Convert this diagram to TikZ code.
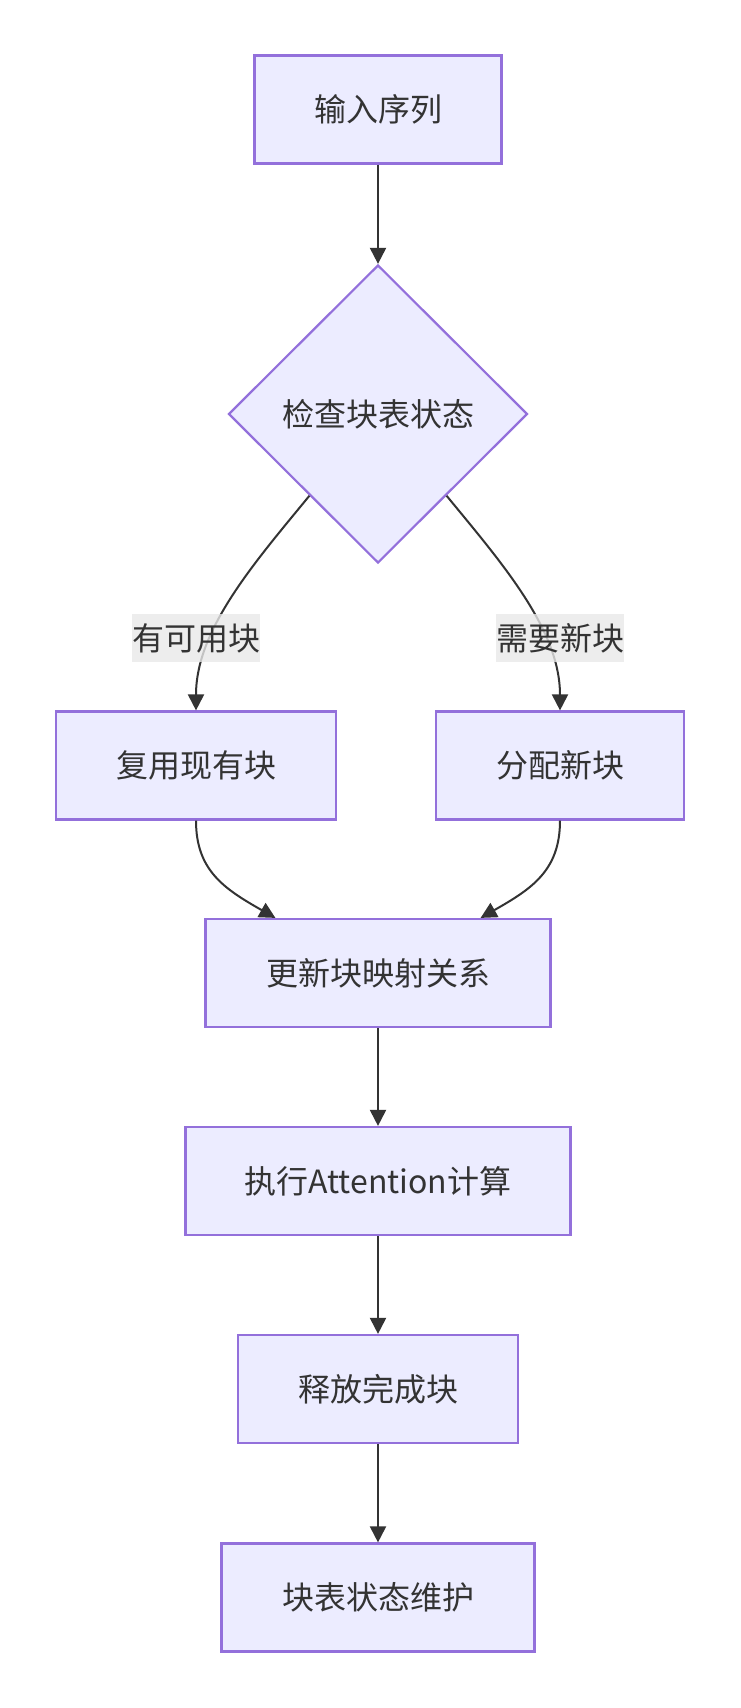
\documentclass[tikz,border=0pt]{standalone}
\usepackage{fontspec}
\setmainfont{Noto Sans CJK SC}
\usepackage{xcolor}
\usepackage{tikz}
\usetikzlibrary{arrows.meta}
\usetikzlibrary{shapes.geometric}
\definecolor{boxfill}{HTML}{ECECFF}
\definecolor{boxline}{HTML}{9370DB}
\definecolor{edgegray}{HTML}{333333}
\definecolor{labelfill}{HTML}{E8E8E8}
\tikzset{
    tnode/.style = {align=center, inner sep=0pt, text centered, text=edgegray, font=\fontsize{32pt}{38pt}\selectfont},
    proc_node/.style = {tnode, rectangle, draw=boxline, fill=boxfill, line width=2.2pt, minimum height=108pt},
    check_node/.style = {tnode, diamond, aspect=1, draw=boxline, fill=boxfill, line width=2.2pt, minimum width=299pt, minimum height=298pt},
    edge_label/.style = {tnode, rectangle, fill=labelfill, fill opacity=0.8, text opacity=1, minimum width=127pt, minimum height=48pt},
    flow/.style = {->, draw=edgegray, line width=2pt}
}

\begin{document}
\begin{tikzpicture}
            [x=1pt, y=-1pt,
            >={Triangle[length=16pt, width=16pt]}]

            \useasboundingbox (0,0) rectangle (740,1708);

            \node [proc_node, minimum width=247pt] (input) at (378,109.5) {输入序列};
            \node [check_node] (check) at (378,414) {检查块表状态};
            \node [proc_node, minimum width=280pt] (reuse) at (196,765.5) {复用现有块};
            \node [proc_node, minimum width=248pt] (alloc) at (560,765.5) {分配新块};
            \node [proc_node, minimum width=345pt] (update) at (378,973) {更新块映射关系};
            \node [proc_node, minimum width=385pt] (attn) at (378,1181) {执行Attention计算};
            \node [proc_node, minimum width=280pt] (release) at (378,1389) {释放完成块};
            \node [proc_node, minimum width=313pt] (maintain) at (378,1597.5) {块表状态维护};

            \draw [flow] (input) -- (check);
            \draw [flow] (check.230) .. controls +(-55,67) and +(0,-81) .. (reuse.north);
            \draw [flow] (check.310) .. controls +(55,67) and +(0,-81) .. (alloc.north);
            \draw [flow] (reuse.south) .. controls +(0,50) and +(-51,-29) .. ([xshift=71pt]update.north west);
            \draw [flow] (alloc.south) .. controls +(0,50) and +(51,-29) .. ([xshift=-71pt]update.north east);
            \draw [flow] (update) -- (attn);
            \draw [flow] (attn) -- (release);
            \draw [flow] (release) -- (maintain);

            % branch labels sit on top of the curves
            \node [edge_label] (avail_lbl) at (196,638) {有可用块};
            \node [edge_label] (new_lbl) at (560,638) {需要新块};
        \end{tikzpicture}
\end{document}
